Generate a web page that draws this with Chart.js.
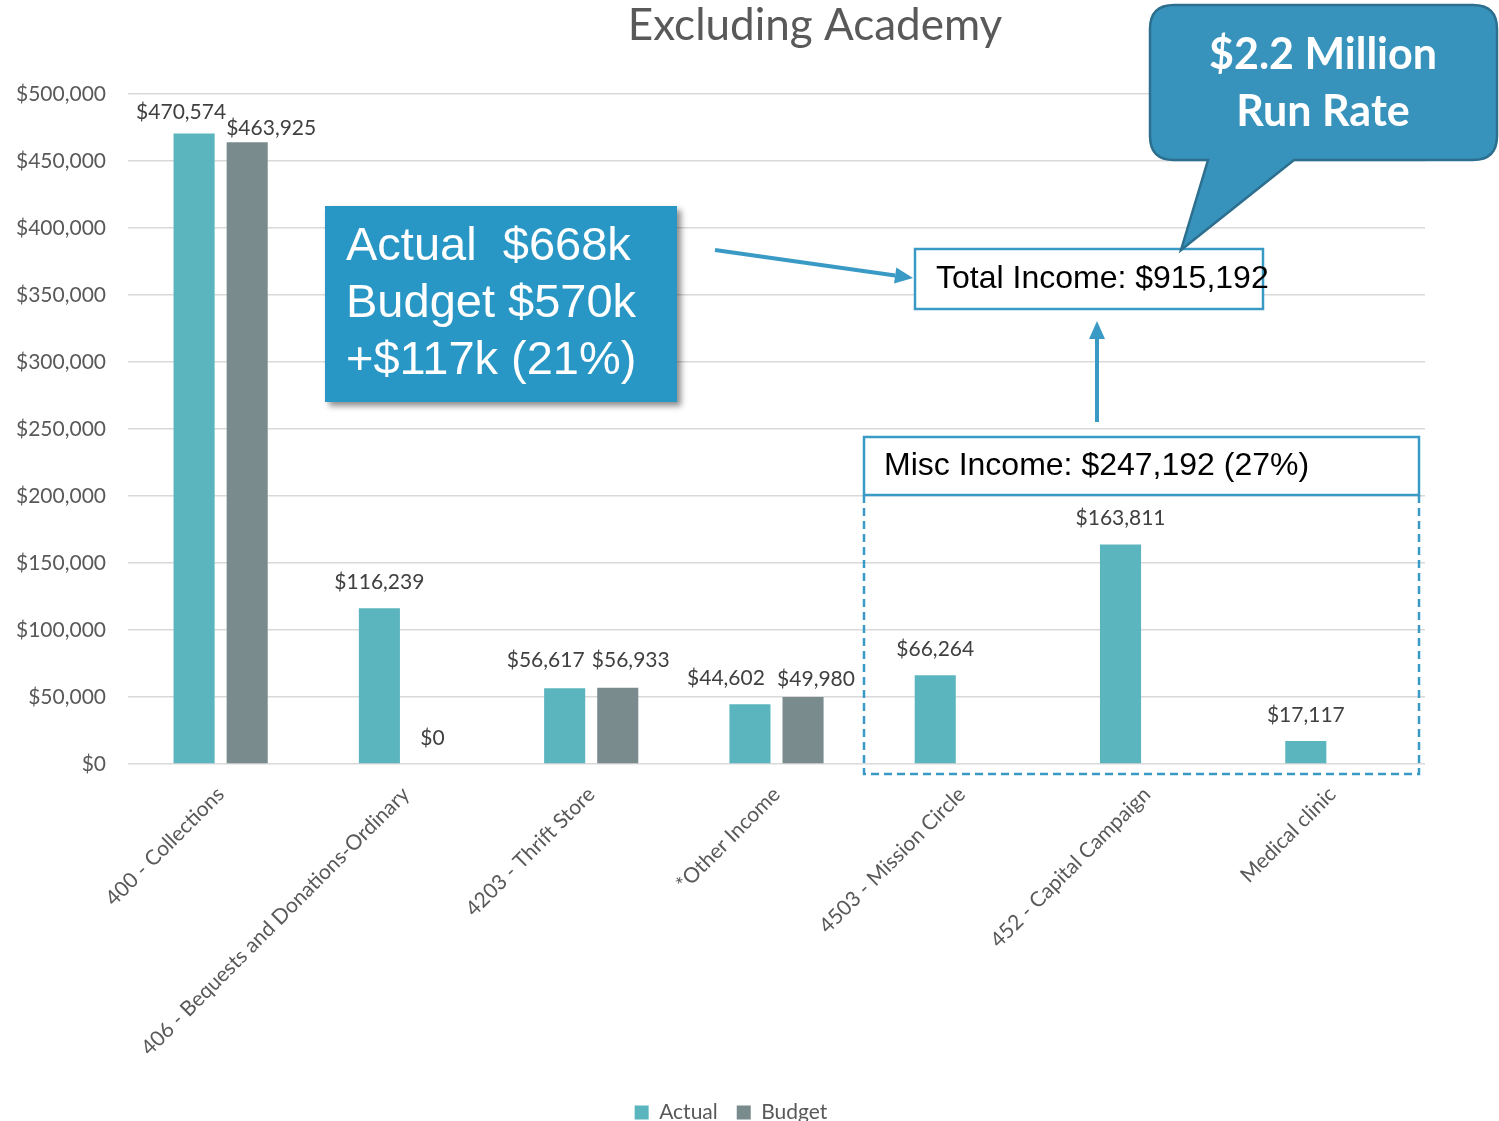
<!DOCTYPE html>
<html>
<head>
<meta charset="utf-8">
<script src="https://cdn.jsdelivr.net/npm/chart.js@4.4.1/dist/chart.umd.min.js"></script>
<style>
  html, body { margin: 0; padding: 0; background: #fff; overflow: hidden; }
  canvas { display: block; }
</style>
</head>
<body>
<canvas id="chart" width="1499" height="1133"></canvas>
<script>
const categories = [
  "400 - Collections",
  "406 - Bequests and Donations-Ordinary",
  "4203 - Thrift Store",
  "*Other Income",
  "4503 - Mission Circle",
  "452 - Capital Campaign",
  "Medical clinic"
];
const actualValues = [470574, 116239, 56617, 44602, 66264, 163811, 17117];
const budgetValues = [463925, 0, 56933, 49980, null, null, null];
const yMin = 0;
const yMax = 500000;
const yStep = 50000;

const calibriLike = "Lato, 'Open Sans', sans-serif";
const arialLike = "'Liberation Sans', Arial, sans-serif";
const accent = "#3a9ac6";

const money = v => "$" + v.toLocaleString("en-US");

// hand-moved labels, like in the original slide
const labelNudge = {
  "0-0": [-13, 5], "1-0": [24, 12],
  "0-2": [-19, -2], "1-2": [13, -1],
  "0-3": [-24, 0], "1-3": [13, 8]
};

const valueLabels = {
  id: "valueLabels",
  afterDatasetsDraw(chart) {
    const ctx = chart.ctx;
    ctx.save();
    ctx.font = "21px " + calibriLike;
    ctx.fillStyle = "#404040";
    ctx.textAlign = "center";
    ctx.textBaseline = "middle";
    chart.data.datasets.forEach((ds, di) => {
      chart.getDatasetMeta(di).data.forEach((bar, i) => {
        const v = ds.data[i];
        if (v === null || v === undefined) return;
        const n = labelNudge[di + "-" + i] || [0, 0];
        ctx.fillText(money(v), bar.x + n[0], bar.y - 26 + n[1]);
      });
    });
    ctx.restore();
  }
};

const drawArrow = (ctx, x1, y1, x2, y2) => {
  const ang = Math.atan2(y2 - y1, x2 - x1);
  const head = 18, half = 8;
  const bx = x2 - head * Math.cos(ang), by = y2 - head * Math.sin(ang);
  ctx.strokeStyle = accent;
  ctx.fillStyle = accent;
  ctx.lineWidth = 4;
  ctx.beginPath();
  ctx.moveTo(x1, y1);
  ctx.lineTo(bx, by);
  ctx.stroke();
  ctx.beginPath();
  ctx.moveTo(x2, y2);
  ctx.lineTo(bx + half * Math.sin(ang), by - half * Math.cos(ang));
  ctx.lineTo(bx - half * Math.sin(ang), by + half * Math.cos(ang));
  ctx.closePath();
  ctx.fill();
};

const annotations = {
  id: "annotations",
  afterLayout(chart) {
    // move the legend a bit left, it sits off-centre in the slide
    const lg = chart.legend;
    const shift = 731 - (lg.left + lg.right) / 2;
    lg.left += shift;
    lg.right += shift;
  },
  afterDraw(chart) {
    const ctx = chart.ctx;
    ctx.save();

    // title
    ctx.fillStyle = "#595959";
    ctx.font = "44px " + calibriLike;
    ctx.textAlign = "center";
    ctx.textBaseline = "middle";
    ctx.fillText("Excluding Academy", 815, 26);

    // blue summary box
    ctx.save();
    ctx.shadowColor = "rgba(0,0,0,0.45)";
    ctx.shadowBlur = 6;
    ctx.shadowOffsetX = 4;
    ctx.shadowOffsetY = 4;
    ctx.fillStyle = "#2897c5";
    ctx.fillRect(325, 206, 352, 196);
    ctx.restore();
    ctx.fillStyle = "#ffffff";
    ctx.font = "47px " + arialLike;
    ctx.textAlign = "left";
    ctx.fillText("Actual  $668k", 346, 247);
    ctx.fillText("Budget $570k", 346, 304);
    ctx.fillText("+$117k (21%)", 346, 361);

    // arrows
    drawArrow(ctx, 715, 250, 913, 278);
    drawArrow(ctx, 1097, 422, 1097, 321);

    // total income box
    ctx.fillStyle = "#ffffff";
    ctx.fillRect(915, 249, 348, 60);
    ctx.strokeStyle = accent;
    ctx.lineWidth = 2.5;
    ctx.strokeRect(915, 249, 348, 60);
    ctx.fillStyle = "#000000";
    ctx.font = "32px " + arialLike;
    ctx.fillText("Total Income: $915,192", 936, 279);

    // misc income box + dashed group
    ctx.fillStyle = "#ffffff";
    ctx.fillRect(864, 437, 555, 58);
    ctx.strokeStyle = accent;
    ctx.strokeRect(864, 437, 555, 58);
    ctx.fillStyle = "#000000";
    ctx.fillText("Misc Income: $247,192 (27%)", 884, 466);
    ctx.setLineDash([8, 5]);
    ctx.beginPath();
    ctx.moveTo(864, 495);
    ctx.lineTo(864, 774);
    ctx.lineTo(1419, 774);
    ctx.lineTo(1419, 495);
    ctx.stroke();
    ctx.setLineDash([]);

    // speech bubble
    const l = 1150, t = 5, r = 1497, b = 160, rad = 24;
    ctx.beginPath();
    ctx.moveTo(l + rad, t);
    ctx.lineTo(r - rad, t);
    ctx.quadraticCurveTo(r, t, r, t + rad);
    ctx.lineTo(r, b - rad);
    ctx.quadraticCurveTo(r, b, r - rad, b);
    ctx.lineTo(1294, b);
    ctx.lineTo(1181, 250);
    ctx.lineTo(1208, b);
    ctx.lineTo(l + rad, b);
    ctx.quadraticCurveTo(l, b, l, b - rad);
    ctx.lineTo(l, t + rad);
    ctx.quadraticCurveTo(l, t, l + rad, t);
    ctx.closePath();
    ctx.fillStyle = "#3793bb";
    ctx.fill();
    ctx.strokeStyle = "#2c6f8e";
    ctx.lineWidth = 2.5;
    ctx.stroke();
    ctx.fillStyle = "#ffffff";
    ctx.font = "bold 43px " + calibriLike;
    ctx.textAlign = "center";
    ctx.fillText("$2.2 Million", 1323, 55);
    ctx.fillText("Run Rate", 1323, 112);

    ctx.restore();
  }
};

new Chart(document.getElementById("chart"), {
  type: "bar",
  data: {
    labels: categories,
    datasets: [
      { label: "Actual", data: actualValues, backgroundColor: "#5bb5bf" },
      { label: "Budget", data: budgetValues, backgroundColor: "#798b8c" }
    ]
  },
  options: {
    responsive: false,
    animation: false,
    categoryPercentage: 0.573,
    barPercentage: 0.774,
    layout: { padding: { top: 94, right: 74, left: 0, bottom: 0 } },
    plugins: {
      legend: {
        position: "bottom",
        labels: {
          color: "#595959",
          font: { family: calibriLike, size: 21 },
          boxWidth: 14,
          boxHeight: 14,
          padding: 19
        }
      },
      tooltip: { enabled: false }
    },
    scales: {
      x: {
        grid: { display: false },
        border: { display: false },
        afterFit: s => { s.height = 319; },
        ticks: {
          color: "#595959",
          font: { family: calibriLike, size: 21 },
          padding: 10,
          minRotation: 45,
          maxRotation: 45,
          autoSkip: false
        }
      },
      y: {
        min: yMin,
        max: yMax,
        afterFit: s => { s.width = 128; },
        grid: { color: "#d9d9d9", lineWidth: 1.5, drawTicks: false },
        border: { display: false },
        ticks: {
          stepSize: yStep,
          padding: 22,
          color: "#595959",
          font: { family: calibriLike, size: 21 },
          callback: v => money(v)
        }
      }
    }
  },
  plugins: [valueLabels, annotations]
});
</script>
</body>
</html>
